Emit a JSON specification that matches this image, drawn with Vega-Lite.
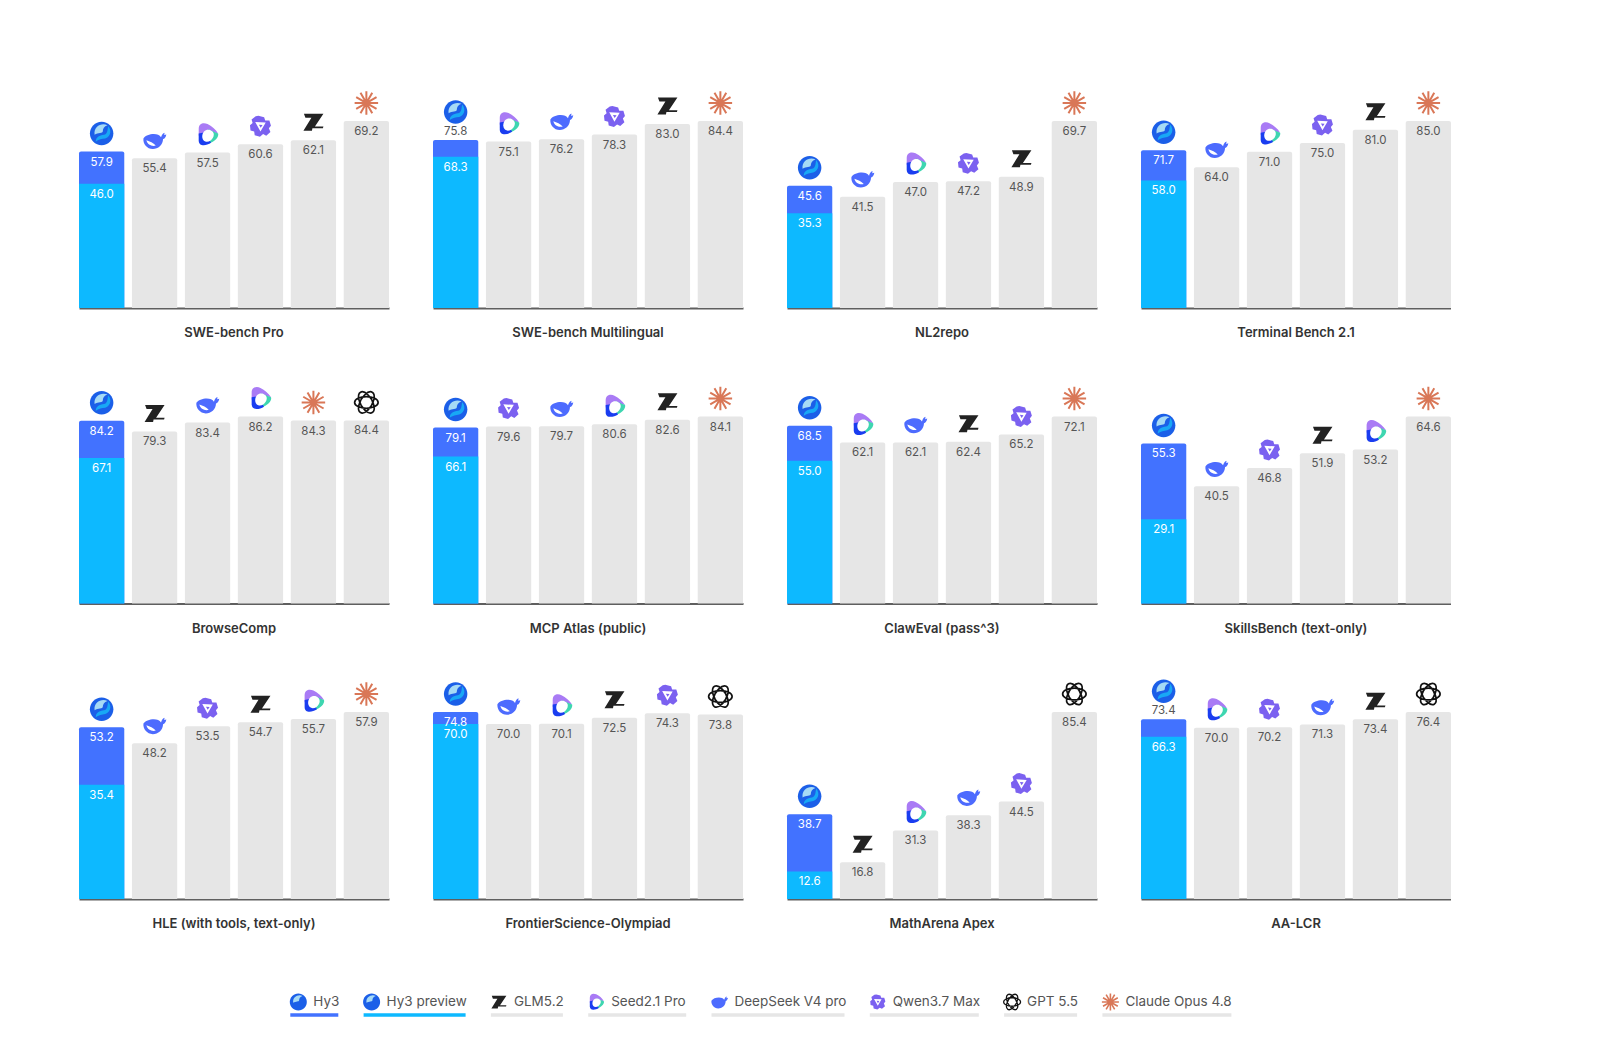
{"$schema":"https://vega.github.io/schema/vega-lite/v6.json","background":"white","padding":{"left":79,"top":87,"right":0,"bottom":0},"config":{"view":{"stroke":null},"font":"Inter"},"spacing":58,"vconcat":[{"data":{"values":[
{"benchmark":"SWE-bench Pro","model":"Hy3","score":57.9,"preview":46.0,"above":false},{"benchmark":"SWE-bench Pro","model":"DeepSeek V4 pro","score":55.4},{"benchmark":"SWE-bench Pro","model":"Seed2.1 Pro","score":57.5},{"benchmark":"SWE-bench Pro","model":"Qwen3.7 Max","score":60.6},{"benchmark":"SWE-bench Pro","model":"GLM5.2","score":62.1},{"benchmark":"SWE-bench Pro","model":"Claude Opus 4.8","score":69.2},
{"benchmark":"SWE-bench Multilingual","model":"Hy3","score":75.8,"preview":68.3,"above":true},{"benchmark":"SWE-bench Multilingual","model":"Seed2.1 Pro","score":75.1},{"benchmark":"SWE-bench Multilingual","model":"DeepSeek V4 pro","score":76.2},{"benchmark":"SWE-bench Multilingual","model":"Qwen3.7 Max","score":78.3},{"benchmark":"SWE-bench Multilingual","model":"GLM5.2","score":83.0},{"benchmark":"SWE-bench Multilingual","model":"Claude Opus 4.8","score":84.4},
{"benchmark":"NL2repo","model":"Hy3","score":45.6,"preview":35.3,"above":false},{"benchmark":"NL2repo","model":"DeepSeek V4 pro","score":41.5},{"benchmark":"NL2repo","model":"Seed2.1 Pro","score":47.0},{"benchmark":"NL2repo","model":"Qwen3.7 Max","score":47.2},{"benchmark":"NL2repo","model":"GLM5.2","score":48.9},{"benchmark":"NL2repo","model":"Claude Opus 4.8","score":69.7},
{"benchmark":"Terminal Bench 2.1","model":"Hy3","score":71.7,"preview":58.0,"above":false},{"benchmark":"Terminal Bench 2.1","model":"DeepSeek V4 pro","score":64.0},{"benchmark":"Terminal Bench 2.1","model":"Seed2.1 Pro","score":71.0},{"benchmark":"Terminal Bench 2.1","model":"Qwen3.7 Max","score":75.0},{"benchmark":"Terminal Bench 2.1","model":"GLM5.2","score":81.0},{"benchmark":"Terminal Bench 2.1","model":"Claude Opus 4.8","score":85.0},
{"benchmark":"BrowseComp","model":"Hy3","score":84.2,"preview":67.1,"above":false},{"benchmark":"BrowseComp","model":"GLM5.2","score":79.3},{"benchmark":"BrowseComp","model":"DeepSeek V4 pro","score":83.4},{"benchmark":"BrowseComp","model":"Seed2.1 Pro","score":86.2},{"benchmark":"BrowseComp","model":"Claude Opus 4.8","score":84.3},{"benchmark":"BrowseComp","model":"GPT 5.5","score":84.4},
{"benchmark":"MCP Atlas (public)","model":"Hy3","score":79.1,"preview":66.1,"above":false},{"benchmark":"MCP Atlas (public)","model":"Qwen3.7 Max","score":79.6},{"benchmark":"MCP Atlas (public)","model":"DeepSeek V4 pro","score":79.7},{"benchmark":"MCP Atlas (public)","model":"Seed2.1 Pro","score":80.6},{"benchmark":"MCP Atlas (public)","model":"GLM5.2","score":82.6},{"benchmark":"MCP Atlas (public)","model":"Claude Opus 4.8","score":84.1},
{"benchmark":"ClawEval (pass^3)","model":"Hy3","score":68.5,"preview":55.0,"above":false},{"benchmark":"ClawEval (pass^3)","model":"Seed2.1 Pro","score":62.1},{"benchmark":"ClawEval (pass^3)","model":"DeepSeek V4 pro","score":62.1},{"benchmark":"ClawEval (pass^3)","model":"GLM5.2","score":62.4},{"benchmark":"ClawEval (pass^3)","model":"Qwen3.7 Max","score":65.2},{"benchmark":"ClawEval (pass^3)","model":"Claude Opus 4.8","score":72.1},
{"benchmark":"SkillsBench (text-only)","model":"Hy3","score":55.3,"preview":29.1,"above":false},{"benchmark":"SkillsBench (text-only)","model":"DeepSeek V4 pro","score":40.5},{"benchmark":"SkillsBench (text-only)","model":"Qwen3.7 Max","score":46.8},{"benchmark":"SkillsBench (text-only)","model":"GLM5.2","score":51.9},{"benchmark":"SkillsBench (text-only)","model":"Seed2.1 Pro","score":53.2},{"benchmark":"SkillsBench (text-only)","model":"Claude Opus 4.8","score":64.6},
{"benchmark":"HLE (with tools, text-only)","model":"Hy3","score":53.2,"preview":35.4,"above":false},{"benchmark":"HLE (with tools, text-only)","model":"DeepSeek V4 pro","score":48.2},{"benchmark":"HLE (with tools, text-only)","model":"Qwen3.7 Max","score":53.5},{"benchmark":"HLE (with tools, text-only)","model":"GLM5.2","score":54.7},{"benchmark":"HLE (with tools, text-only)","model":"Seed2.1 Pro","score":55.7},{"benchmark":"HLE (with tools, text-only)","model":"Claude Opus 4.8","score":57.9},
{"benchmark":"FrontierScience-Olympiad","model":"Hy3","score":74.8,"preview":70.0,"above":false},{"benchmark":"FrontierScience-Olympiad","model":"DeepSeek V4 pro","score":70.0},{"benchmark":"FrontierScience-Olympiad","model":"Seed2.1 Pro","score":70.1},{"benchmark":"FrontierScience-Olympiad","model":"GLM5.2","score":72.5},{"benchmark":"FrontierScience-Olympiad","model":"Qwen3.7 Max","score":74.3},{"benchmark":"FrontierScience-Olympiad","model":"GPT 5.5","score":73.8},
{"benchmark":"MathArena Apex","model":"Hy3","score":38.7,"preview":12.6,"above":false},{"benchmark":"MathArena Apex","model":"GLM5.2","score":16.8},{"benchmark":"MathArena Apex","model":"Seed2.1 Pro","score":31.3},{"benchmark":"MathArena Apex","model":"DeepSeek V4 pro","score":38.3},{"benchmark":"MathArena Apex","model":"Qwen3.7 Max","score":44.5},{"benchmark":"MathArena Apex","model":"GPT 5.5","score":85.4},
{"benchmark":"AA-LCR","model":"Hy3","score":73.4,"preview":66.3,"above":true},{"benchmark":"AA-LCR","model":"Seed2.1 Pro","score":70.0},{"benchmark":"AA-LCR","model":"Qwen3.7 Max","score":70.2},{"benchmark":"AA-LCR","model":"DeepSeek V4 pro","score":71.3},{"benchmark":"AA-LCR","model":"GLM5.2","score":73.4},{"benchmark":"AA-LCR","model":"GPT 5.5","score":76.4}
]},
"facet":{"field":"benchmark","sort":["SWE-bench Pro","SWE-bench Multilingual","NL2repo","Terminal Bench 2.1","BrowseComp","MCP Atlas (public)","ClawEval (pass^3)","SkillsBench (text-only)","HLE (with tools, text-only)","FrontierScience-Olympiad","MathArena Apex","AA-LCR"],"header":{"title":null,"labelOrient":"bottom","labelFont":"Inter","labelFontSize":13,"labelFontWeight":600,"labelColor":"#333333","labelPadding":19}},
"columns":4,"bounds":"flush","spacing":{"column":44,"row":108.5},
"resolve":{"scale":{"x":"independent","y":"independent"}},
"spec":{"width":310,"height":187,
"encoding":{"x":{"field":"model","type":"nominal","sort":null,"title":null,"scale":{"paddingInner":0.145,"paddingOuter":0},"axis":{"labels":false,"ticks":false,"title":null,"domainColor":"#5f5f5f","domainWidth":2,"grid":false}},"y":{"field":"score","type":"quantitative","stack":null,"axis":null,"scale":{"nice":false,"zero":true}}},
"layer":[
{"mark":{"type":"bar","cornerRadiusTopLeft":2,"cornerRadiusTopRight":2},"encoding":{"color":{"field":"model","type":"nominal","legend":null,"scale":{"domain":["Hy3","Hy3 preview","GLM5.2","Seed2.1 Pro","DeepSeek V4 pro","Qwen3.7 Max","GPT 5.5","Claude Opus 4.8"],"range":["#4272FF","#0DB9FF","#E6E6E6","#E6E6E6","#E6E6E6","#E6E6E6","#E6E6E6","#E6E6E6"]}}}},
{"transform":[{"filter":"datum.model==='Hy3'"}],"mark":{"type":"bar","color":"#0DB9FF"},"encoding":{"y":{"field":"preview","type":"quantitative","stack":null}}},
{"transform":[{"filter":"datum.model!=='Hy3'"}],"mark":{"type":"text","font":"Inter","fontSize":11.5,"color":"#555555","baseline":"middle","dy":11},"encoding":{"text":{"field":"score","type":"quantitative","format":".1f"}}},
{"transform":[{"filter":"datum.model==='Hy3'&&!datum.above"}],"mark":{"type":"text","font":"Inter","fontSize":11.5,"color":"#ffffff","baseline":"middle","dy":11},"encoding":{"text":{"field":"score","type":"quantitative","format":".1f"}}},
{"transform":[{"filter":"datum.model==='Hy3'&&datum.above"}],"mark":{"type":"text","font":"Inter","fontSize":11.5,"color":"#555555","baseline":"middle","dy":-8},"encoding":{"text":{"field":"score","type":"quantitative","format":".1f"}}},
{"transform":[{"filter":"datum.model==='Hy3'"}],"mark":{"type":"text","font":"Inter","fontSize":11.5,"color":"#ffffff","baseline":"middle","dy":11},"encoding":{"y":{"field":"preview","type":"quantitative","stack":null},"text":{"field":"preview","type":"quantitative","format":".1f"}}},
{"transform":[{"filter":"datum.model==='Hy3'&&!datum.above"}],"layer":[
{"mark":{"type":"point","filled":true,"opacity":1,"size":552,"yOffset":-18,"color":"#1B5FE8","shape":"M-1,0 A1,1 0 1,1 1,0 A1,1 0 1,1 -1,0 Z"}},
{"mark":{"type":"point","filled":true,"opacity":1,"size":552,"yOffset":-18,"color":"#A6DAF5","shape":"M-0.6,0.1 C-0.7,-0.6 0,-0.95 0.5,-0.7 C0.2,-0.6 0.1,-0.4 0.1,-0.2 C0.1,0 -0.3,-0.1 -0.6,0.1Z"}},
{"mark":{"type":"point","filled":true,"opacity":1,"size":552,"yOffset":-18,"color":"#18A8F5","shape":"M0.55,-0.65 C0.95,-0.2 0.7,0.4 0.1,0.45 C-0.2,0.48 -0.4,0.6 -0.5,0.7 C-0.5,0.3 -0.2,0.15 0.2,0.1 C0.5,0.05 0.5,-0.3 0.55,-0.65Z"}}]},
{"transform":[{"filter":"datum.model==='Hy3'&&datum.above"}],"layer":[
{"mark":{"type":"point","filled":true,"opacity":1,"size":552,"yOffset":-28,"color":"#1B5FE8","shape":"M-1,0 A1,1 0 1,1 1,0 A1,1 0 1,1 -1,0 Z"}},
{"mark":{"type":"point","filled":true,"opacity":1,"size":552,"yOffset":-28,"color":"#A6DAF5","shape":"M-0.6,0.1 C-0.7,-0.6 0,-0.95 0.5,-0.7 C0.2,-0.6 0.1,-0.4 0.1,-0.2 C0.1,0 -0.3,-0.1 -0.6,0.1Z"}},
{"mark":{"type":"point","filled":true,"opacity":1,"size":552,"yOffset":-28,"color":"#18A8F5","shape":"M0.55,-0.65 C0.95,-0.2 0.7,0.4 0.1,0.45 C-0.2,0.48 -0.4,0.6 -0.5,0.7 C-0.5,0.3 -0.2,0.15 0.2,0.1 C0.5,0.05 0.5,-0.3 0.55,-0.65Z"}}]},
{"transform":[{"filter":"datum.model==='DeepSeek V4 pro'"}],"layer":[
{"mark":{"type":"point","filled":true,"opacity":1,"size":552,"yOffset":-18,"color":"#4D6BFE","shape":"M-0.95,-0.15 C-0.7,-0.55 0.3,-0.7 0.55,-0.25 C0.6,-0.4 0.65,-0.6 0.85,-0.65 L0.82,-0.45 L1,-0.5 C0.95,-0.25 0.85,-0.15 0.72,-0.1 C0.72,0.4 0.3,0.75 -0.15,0.75 C-0.65,0.75 -1,0.3 -0.95,-0.15Z"}},
{"mark":{"type":"point","filled":true,"opacity":1,"size":552,"yOffset":-18,"color":"#ffffff","shape":"M-0.7,0 C-0.4,0.1 -0.1,0.2 0.1,0.45 C-0.2,0.55 -0.6,0.4 -0.7,0Z"}}]},
{"transform":[{"filter":"datum.model==='Seed2.1 Pro'"}],"layer":[
{"mark":{"type":"point","filled":true,"opacity":1,"size":552,"yOffset":-18,"color":"#A97BF5","shape":"M-0.75,-0.5 C-0.75,-1 -0.3,-1.05 0,-0.9 C0.35,-0.72 0.7,-0.45 0.9,-0.1 L0.1,-0.3 L-0.75,0.1 Z"}},
{"mark":{"type":"point","filled":true,"opacity":1,"size":552,"yOffset":-18,"color":"#3ED6B0","shape":"M0.05,-0.45 L0.9,-0.1 C1,0.2 0.6,0.6 0.1,0.75 L0,0.4 Z"}},
{"mark":{"type":"point","filled":true,"opacity":1,"size":552,"yOffset":-18,"color":"#1A3DF0","shape":"M-0.75,-0.1 L-0.2,-0.2 L0.3,0.7 C-0.1,0.95 -0.75,1.05 -0.75,0.5 Z"}},
{"mark":{"type":"point","filled":true,"opacity":1,"size":552,"yOffset":-18,"color":"#ffffff","shape":"M-0.45,0.15 C-0.45,-0.4 0.1,-0.6 0.45,-0.25 C0.7,0.05 0.35,0.6 -0.05,0.6 C-0.3,0.6 -0.45,0.4 -0.45,0.15Z"}}]},
{"transform":[{"filter":"datum.model==='Qwen3.7 Max'"}],"mark":{"type":"point","filled":true,"opacity":1,"size":440,"yOffset":-18,"color":"#7B61F0","shape":"M-0.2,-1 L0.35,-0.85 L0.45,-0.55 L0.85,-0.55 L1,-0.05 L0.8,0.2 L0.95,0.55 L0.55,0.9 L0.25,0.75 L-0.05,1 L-0.55,0.85 L-0.6,0.5 L-0.95,0.4 L-1,-0.1 L-0.75,-0.3 L-0.85,-0.65 L-0.45,-0.95 Z M-0.5,-0.4 L0,0.5 L0.5,-0.35 Z M-0.15,-0.15 L0.2,-0.12 L0.02,0.15 Z"}},
{"transform":[{"filter":"datum.model==='GLM5.2'"}],"mark":{"type":"point","filled":true,"opacity":1,"size":400,"yOffset":-18,"color":"#222222","shape":"M-0.95,-0.85 L1,-0.85 L0.15,0.42 L1,0.42 L0.95,0.6 L-0.1,0.6 L-0.15,0.85 L-1,0.85 L-0.2,-0.45 L-0.8,-0.45 Z"}},
{"transform":[{"filter":"datum.model==='GPT 5.5'"}],"mark":{"type":"point","filled":false,"opacity":1,"size":552,"yOffset":-18,"stroke":"#111111","strokeWidth":1.7,"shape":"M-1,0 A1,0.5 0 1,1 1,0 A1,0.5 0 1,1 -1,0 Z M-0.5,-0.866 A1,0.5 60 1,1 0.5,0.866 A1,0.5 60 1,1 -0.5,-0.866Z M0.5,-0.866 A1,0.5 120 1,1 -0.5,0.866 A1,0.5 120 1,1 0.5,-0.866Z"}},
{"transform":[{"filter":"datum.model==='Claude Opus 4.8'"}],"mark":{"type":"point","filled":false,"opacity":1,"size":552,"yOffset":-18,"stroke":"#D97757","strokeWidth":2,"shape":"M0,-1 L0,1 M0.5,-0.866 L-0.5,0.866 M0.866,-0.5 L-0.866,0.5 M1,0 L-1,0 M0.866,0.5 L-0.866,-0.5 M0.5,0.866 L-0.5,-0.866"}}
]}},
{"spacing":25.3,"bounds":"flush","hconcat":[
{"width":186,"height":26,"data":{"values":[]},"mark":"rect"},
{"width":48,"height":26,"data":{"values":[{"model":"Hy3"}]},"layer":[
{"mark":{"type":"rule","color":"#4272FF","strokeWidth":3.5},"encoding":{"y":{"datum":0,"type":"quantitative","scale":{"domain":[0,1]},"axis":null}}},
{"encoding":{"x":{"datum":0,"type":"quantitative","scale":{"domain":[0,1]},"axis":null},"y":{"datum":0.5,"type":"quantitative","scale":{"domain":[0,1]},"axis":null}},"layer":[
{"mark":{"type":"point","filled":true,"opacity":1,"size":290,"xOffset":8,"color":"#1B5FE8","shape":"M-1,0 A1,1 0 1,1 1,0 A1,1 0 1,1 -1,0 Z"}},
{"mark":{"type":"point","filled":true,"opacity":1,"size":290,"xOffset":8,"color":"#A6DAF5","shape":"M-0.6,0.1 C-0.7,-0.6 0,-0.95 0.5,-0.7 C0.2,-0.6 0.1,-0.4 0.1,-0.2 C0.1,0 -0.3,-0.1 -0.6,0.1Z"}},
{"mark":{"type":"text","font":"Inter","fontSize":13.5,"color":"#555555","align":"left","baseline":"middle","dx":23},"encoding":{"text":{"field":"model"}}}]}]},
{"width":102,"height":26,"data":{"values":[{"model":"Hy3 preview"}]},"layer":[
{"mark":{"type":"rule","color":"#0DB9FF","strokeWidth":3.5},"encoding":{"y":{"datum":0,"type":"quantitative","scale":{"domain":[0,1]},"axis":null}}},
{"encoding":{"x":{"datum":0,"type":"quantitative","scale":{"domain":[0,1]},"axis":null},"y":{"datum":0.5,"type":"quantitative","scale":{"domain":[0,1]},"axis":null}},"layer":[
{"mark":{"type":"point","filled":true,"opacity":1,"size":290,"xOffset":8,"color":"#1B5FE8","shape":"M-1,0 A1,1 0 1,1 1,0 A1,1 0 1,1 -1,0 Z"}},
{"mark":{"type":"point","filled":true,"opacity":1,"size":290,"xOffset":8,"color":"#A6DAF5","shape":"M-0.6,0.1 C-0.7,-0.6 0,-0.95 0.5,-0.7 C0.2,-0.6 0.1,-0.4 0.1,-0.2 C0.1,0 -0.3,-0.1 -0.6,0.1Z"}},
{"mark":{"type":"text","font":"Inter","fontSize":13.5,"color":"#555555","align":"left","baseline":"middle","dx":23},"encoding":{"text":{"field":"model"}}}]}]},
{"width":72,"height":26,"data":{"values":[{"model":"GLM5.2"}]},"layer":[
{"mark":{"type":"rule","color":"#E6E6E6","strokeWidth":3.5},"encoding":{"y":{"datum":0,"type":"quantitative","scale":{"domain":[0,1]},"axis":null}}},
{"encoding":{"x":{"datum":0,"type":"quantitative","scale":{"domain":[0,1]},"axis":null},"y":{"datum":0.5,"type":"quantitative","scale":{"domain":[0,1]},"axis":null}},"layer":[
{"mark":{"type":"point","filled":true,"opacity":1,"size":225,"xOffset":8,"color":"#222222","shape":"M-0.95,-0.85 L1,-0.85 L0.15,0.42 L1,0.42 L0.95,0.6 L-0.1,0.6 L-0.15,0.85 L-1,0.85 L-0.2,-0.45 L-0.8,-0.45 Z"}},
{"mark":{"type":"text","font":"Inter","fontSize":13.5,"color":"#555555","align":"left","baseline":"middle","dx":23},"encoding":{"text":{"field":"model"}}}]}]},
{"width":98,"height":26,"data":{"values":[{"model":"Seed2.1 Pro"}]},"layer":[
{"mark":{"type":"rule","color":"#E6E6E6","strokeWidth":3.5},"encoding":{"y":{"datum":0,"type":"quantitative","scale":{"domain":[0,1]},"axis":null}}},
{"encoding":{"x":{"datum":0,"type":"quantitative","scale":{"domain":[0,1]},"axis":null},"y":{"datum":0.5,"type":"quantitative","scale":{"domain":[0,1]},"axis":null}},"layer":[
{"mark":{"type":"point","filled":true,"opacity":1,"size":290,"xOffset":8,"color":"#A97BF5","shape":"M-0.75,-0.5 C-0.75,-1 -0.3,-1.05 0,-0.9 C0.35,-0.72 0.7,-0.45 0.9,-0.1 L0.1,-0.3 L-0.75,0.1 Z"}},
{"mark":{"type":"point","filled":true,"opacity":1,"size":290,"xOffset":8,"color":"#3ED6B0","shape":"M0.05,-0.45 L0.9,-0.1 C1,0.2 0.6,0.6 0.1,0.75 L0,0.4 Z"}},
{"mark":{"type":"point","filled":true,"opacity":1,"size":290,"xOffset":8,"color":"#1A3DF0","shape":"M-0.75,-0.1 L-0.2,-0.2 L0.3,0.7 C-0.1,0.95 -0.75,1.05 -0.75,0.5 Z"}},
{"mark":{"type":"point","filled":true,"opacity":1,"size":290,"xOffset":8,"color":"#ffffff","shape":"M-0.45,0.15 C-0.45,-0.4 0.1,-0.6 0.45,-0.25 C0.7,0.05 0.35,0.6 -0.05,0.6 C-0.3,0.6 -0.45,0.4 -0.45,0.15Z"}},
{"mark":{"type":"text","font":"Inter","fontSize":13.5,"color":"#555555","align":"left","baseline":"middle","dx":23},"encoding":{"text":{"field":"model"}}}]}]},
{"width":133,"height":26,"data":{"values":[{"model":"DeepSeek V4 pro"}]},"layer":[
{"mark":{"type":"rule","color":"#E6E6E6","strokeWidth":3.5},"encoding":{"y":{"datum":0,"type":"quantitative","scale":{"domain":[0,1]},"axis":null}}},
{"encoding":{"x":{"datum":0,"type":"quantitative","scale":{"domain":[0,1]},"axis":null},"y":{"datum":0.5,"type":"quantitative","scale":{"domain":[0,1]},"axis":null}},"layer":[
{"mark":{"type":"point","filled":true,"opacity":1,"size":290,"xOffset":8,"color":"#4D6BFE","shape":"M-0.95,-0.15 C-0.7,-0.55 0.3,-0.7 0.55,-0.25 C0.6,-0.4 0.65,-0.6 0.85,-0.65 L0.82,-0.45 L1,-0.5 C0.95,-0.25 0.85,-0.15 0.72,-0.1 C0.72,0.4 0.3,0.75 -0.15,0.75 C-0.65,0.75 -1,0.3 -0.95,-0.15Z"}},
{"mark":{"type":"text","font":"Inter","fontSize":13.5,"color":"#555555","align":"left","baseline":"middle","dx":23},"encoding":{"text":{"field":"model"}}}]}]},
{"width":109,"height":26,"data":{"values":[{"model":"Qwen3.7 Max"}]},"layer":[
{"mark":{"type":"rule","color":"#E6E6E6","strokeWidth":3.5},"encoding":{"y":{"datum":0,"type":"quantitative","scale":{"domain":[0,1]},"axis":null}}},
{"encoding":{"x":{"datum":0,"type":"quantitative","scale":{"domain":[0,1]},"axis":null},"y":{"datum":0.5,"type":"quantitative","scale":{"domain":[0,1]},"axis":null}},"layer":[
{"mark":{"type":"point","filled":true,"opacity":1,"size":230,"xOffset":8,"color":"#7B61F0","shape":"M-0.2,-1 L0.35,-0.85 L0.45,-0.55 L0.85,-0.55 L1,-0.05 L0.8,0.2 L0.95,0.55 L0.55,0.9 L0.25,0.75 L-0.05,1 L-0.55,0.85 L-0.6,0.5 L-0.95,0.4 L-1,-0.1 L-0.75,-0.3 L-0.85,-0.65 L-0.45,-0.95 Z M-0.5,-0.4 L0,0.5 L0.5,-0.35 Z M-0.15,-0.15 L0.2,-0.12 L0.02,0.15 Z"}},
{"mark":{"type":"text","font":"Inter","fontSize":13.5,"color":"#555555","align":"left","baseline":"middle","dx":23},"encoding":{"text":{"field":"model"}}}]}]},
{"width":73,"height":26,"data":{"values":[{"model":"GPT 5.5"}]},"layer":[
{"mark":{"type":"rule","color":"#E6E6E6","strokeWidth":3.5},"encoding":{"y":{"datum":0,"type":"quantitative","scale":{"domain":[0,1]},"axis":null}}},
{"encoding":{"x":{"datum":0,"type":"quantitative","scale":{"domain":[0,1]},"axis":null},"y":{"datum":0.5,"type":"quantitative","scale":{"domain":[0,1]},"axis":null}},"layer":[
{"mark":{"type":"point","filled":false,"opacity":1,"size":290,"xOffset":8,"stroke":"#111111","strokeWidth":1.3,"shape":"M-1,0 A1,0.5 0 1,1 1,0 A1,0.5 0 1,1 -1,0 Z M-0.5,-0.866 A1,0.5 60 1,1 0.5,0.866 A1,0.5 60 1,1 -0.5,-0.866Z M0.5,-0.866 A1,0.5 120 1,1 -0.5,0.866 A1,0.5 120 1,1 0.5,-0.866Z"}},
{"mark":{"type":"text","font":"Inter","fontSize":13.5,"color":"#555555","align":"left","baseline":"middle","dx":23},"encoding":{"text":{"field":"model"}}}]}]},
{"width":129,"height":26,"data":{"values":[{"model":"Claude Opus 4.8"}]},"layer":[
{"mark":{"type":"rule","color":"#E6E6E6","strokeWidth":3.5},"encoding":{"y":{"datum":0,"type":"quantitative","scale":{"domain":[0,1]},"axis":null}}},
{"encoding":{"x":{"datum":0,"type":"quantitative","scale":{"domain":[0,1]},"axis":null},"y":{"datum":0.5,"type":"quantitative","scale":{"domain":[0,1]},"axis":null}},"layer":[
{"mark":{"type":"point","filled":false,"opacity":1,"size":290,"xOffset":8,"stroke":"#D97757","strokeWidth":1.6,"shape":"M0,-1 L0,1 M0.5,-0.866 L-0.5,0.866 M0.866,-0.5 L-0.866,0.5 M1,0 L-1,0 M0.866,0.5 L-0.866,-0.5 M0.5,0.866 L-0.5,-0.866"}},
{"mark":{"type":"text","font":"Inter","fontSize":13.5,"color":"#555555","align":"left","baseline":"middle","dx":23},"encoding":{"text":{"field":"model"}}}]}]}
]}
]}
